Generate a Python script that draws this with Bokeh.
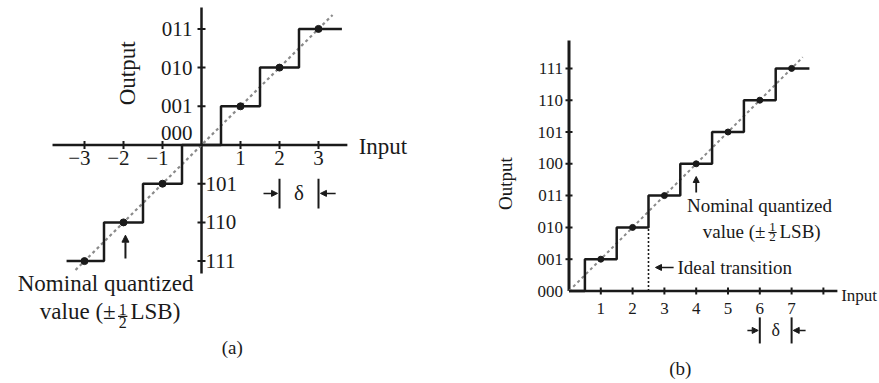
import numpy as np
from bokeh.plotting import figure
from bokeh.layouts import row
from bokeh.models import Range1d, Arrow, NormalHead
from bokeh.core.properties import value
from bokeh.embed import file_html
from bokeh.resources import INLINE

FONT = value("Liberation Serif")
INK = "#1a1a1a"

# ---------------- data: panel (a) bipolar 3-bit quantizer ----------------
a_inputs = [-3, -2, -1, 0, 1, 2, 3]
a_levels = [-3, -2, -1, 0, 1, 2, 3]
a_codes = ["111", "110", "101", "000", "001", "010", "011"]
a_xtick_labels = ["\u22123", "\u22122", "\u22121", "", "1", "2", "3"]
a_stair_ends = [-3.46, 3.6]
a_ideal_ends = [-3.23, 3.36]

# ---------------- data: panel (b) unipolar 3-bit quantizer ----------------
b_inputs = [0, 1, 2, 3, 4, 5, 6, 7]
b_levels = [0, 1, 2, 3, 4, 5, 6, 7]
b_codes = ["000", "001", "010", "011", "100", "101", "110", "111"]
b_xtick_labels = ["", "1", "2", "3", "4", "5", "6", "7", ""]
b_xticks = [0, 1, 2, 3, 4, 5, 6, 7, 8]
b_stair_end = 7.56
b_ideal_end = 7.35
b_ideal_transition = 2.5

W_A, W_B, H = 440, 439, 383


def base_fig(w, h, xr, yr):
    p = figure(width=w, height=h, x_range=Range1d(*xr), y_range=Range1d(*yr),
               output_backend="svg", toolbar_location=None, min_border=0)
    p.axis.visible = False
    p.grid.visible = False
    p.outline_line_color = None
    p.background_fill_color = "white"
    return p


def txt(p, x, y, s, size, align="left", base="middle", angle=0, xo=0, yo=0):
    p.text(x=[x], y=[y], text=[s], text_font=FONT, text_font_size=size,
           text_align=align, text_baseline=base, angle=angle, text_color=INK,
           x_offset=xo, y_offset=yo)


def arrow(p, x0, y0, x1, y1, size=7, lw=2):
    p.add_layout(Arrow(end=NormalHead(size=size, fill_color=INK, line_color=INK),
                       x_start=x0, y_start=y0, x_end=x1, y_end=y1,
                       line_color=INK, line_width=lw))


# ========================= panel (a) =========================
pa = base_fig(W_A, H, ((0 - 201) / 39, (W_A - 201) / 39),
              ((144.5 - H) / 38.7, 144.5 / 38.7))

pa.line(x=[-3.82, 3.74], y=[0, 0], line_color=INK, line_width=2.5)
pa.line(x=[0, 0], y=[-3.32, 3.55], line_color=INK, line_width=2.5)
nz = [i for i, v in enumerate(a_inputs) if v != 0]
pa.scatter(x=[a_inputs[i] for i in nz], y=[0] * len(nz), marker="dash",
           angle=np.pi / 2, size=8, line_color=INK, line_width=2)
pa.scatter(x=[0] * len(nz), y=[a_levels[i] for i in nz], marker="dash",
           size=8, line_color=INK, line_width=2)

pa.line(x=a_ideal_ends, y=a_ideal_ends, line_color="#8a8a8a", line_width=2.2,
        line_dash="3 3")
pa.step(x=[a_stair_ends[0]] + a_inputs + [a_stair_ends[1]],
        y=[a_levels[0]] + a_levels + [a_levels[-1]], mode="center",
        line_color=INK, line_width=2.5)
pa.scatter(x=[a_inputs[i] for i in nz], y=[a_levels[i] for i in nz],
           size=7, fill_color=INK, line_color=INK)

for v, lab in zip(a_inputs, a_xtick_labels):
    if lab:
        if v < 0:
            txt(pa, v, 0, lab, "21px", align="right", base="top", xo=6, yo=6)
        else:
            txt(pa, v, 0, lab, "21px", align="center", base="top", yo=6)
for v, code in zip(a_levels, a_codes):
    if v > 0:
        txt(pa, 0, v, code, "21px", align="right", xo=-9)
    elif v < 0:
        txt(pa, 0, v, code, "21px", align="left", xo=4)
    else:
        txt(pa, 0, v, code, "21px", align="right", base="bottom", xo=-9, yo=-5)

txt(pa, -1.90, 1.85, "Output", "23px", align="center", angle=np.pi / 2)
txt(pa, 4.03, 0, "Input", "23px", align="left", yo=1)

arrow(pa, -1.95, -2.93, -1.95, -2.33)
txt(pa, -2.46, -3.58, "Nominal quantized", "23px", align="center")
txt(pa, -2.2, -4.30, "value (\u00b1", "23px", align="right")
txt(pa, -2.02, -4.43, "1", "16px", align="center", base="bottom", yo=-1)
txt(pa, -2.02, -4.43, "2", "16px", align="center", base="top", yo=1)
pa.line(x=[-2.14, -1.90], y=[-4.43, -4.43], line_color=INK, line_width=1.2)
txt(pa, -1.82, -4.30, "LSB)", "23px", align="left")

pa.line(x=[2, 2], y=[-0.87, -1.64], line_color=INK, line_width=2)
pa.line(x=[3, 3], y=[-0.87, -1.64], line_color=INK, line_width=2)
arrow(pa, 1.59, -1.25, 1.95, -1.25, size=6, lw=1.5)
arrow(pa, 3.44, -1.25, 3.05, -1.25, size=6, lw=1.5)
txt(pa, 2.5, -1.25, "\u03b4", "21px", align="center")

txt(pa, 0.79, -5.23, "(a)", "19px", align="center")

# ========================= panel (b) =========================
pb = base_fig(W_B, H, ((440 - 568.5) / 31.8, (440 + W_B - 568.5) / 31.8),
              ((290.5 - H) / 31.8, 290.5 / 31.8))

pb.line(x=[0, 8.44], y=[0, 0], line_color=INK, line_width=2.5)
pb.line(x=[0, 0], y=[0, 7.88], line_color=INK, line_width=3)
pb.scatter(x=b_xticks[1:], y=[0] * (len(b_xticks) - 1), marker="dash",
           angle=np.pi / 2, size=7, line_color=INK, line_width=2)
pb.scatter(x=[0] * (len(b_levels) - 1), y=b_levels[1:], marker="dash",
           size=7, line_color=INK, line_width=2)

pb.line(x=[0, b_ideal_end], y=[0, b_ideal_end], line_color="#8a8a8a",
        line_width=2, line_dash="3 3")
pb.line(x=[b_ideal_transition, b_ideal_transition], y=[0, b_levels[2]],
        line_color=INK, line_width=1.6, line_dash="2 2")
pb.step(x=b_inputs + [b_stair_end], y=b_levels + [b_levels[-1]], mode="center",
        line_color=INK, line_width=2.5)
pb.scatter(x=b_inputs[1:], y=b_levels[1:], size=6, fill_color=INK, line_color=INK)

for v, lab in zip(b_xticks, b_xtick_labels):
    if lab:
        txt(pb, v, 0, lab, "17px", align="center", base="top", yo=12)
for v, code in zip(b_levels, b_codes):
    txt(pb, 0, v, code, "17px", align="right", xo=-6)

txt(pb, -2.0, 3.38, "Output", "19px", align="center", angle=np.pi / 2)
txt(pb, 8.56, -0.14, "Input", "17px", align="left")

arrow(pb, 3.29, 0.74, 2.72, 0.74, size=6, lw=1.5)
txt(pb, 3.41, 0.74, "Ideal transition", "19px", align="left")

arrow(pb, 4.0, 3.1, 4.0, 3.6, size=6, lw=1.8)
txt(pb, 5.99, 2.69, "Nominal quantized", "19px", align="center")
txt(pb, 6.18, 1.87, "value (\u00b1", "19px", align="right")
txt(pb, 6.4, 1.84, "1", "13px", align="center", base="bottom", yo=-1)
txt(pb, 6.4, 1.84, "2", "13px", align="center", base="top", yo=1)
pb.line(x=[6.27, 6.53], y=[1.84, 1.84], line_color=INK, line_width=1)
txt(pb, 6.62, 1.87, "LSB)", "19px", align="left")

pb.line(x=[6, 6], y=[-0.83, -1.65], line_color=INK, line_width=2)
pb.line(x=[7, 7], y=[-0.83, -1.65], line_color=INK, line_width=2)
arrow(pb, 5.61, -1.24, 5.95, -1.24, size=6, lw=1.5)
arrow(pb, 7.44, -1.24, 7.05, -1.24, size=6, lw=1.5)
txt(pb, 6.5, -1.24, "\u03b4", "18px", align="center")

txt(pb, 3.5, -2.44, "(b)", "19px", align="center")

layout = row(pa, pb, spacing=0)
open("out.html", "w").write(file_html(layout, INLINE))
